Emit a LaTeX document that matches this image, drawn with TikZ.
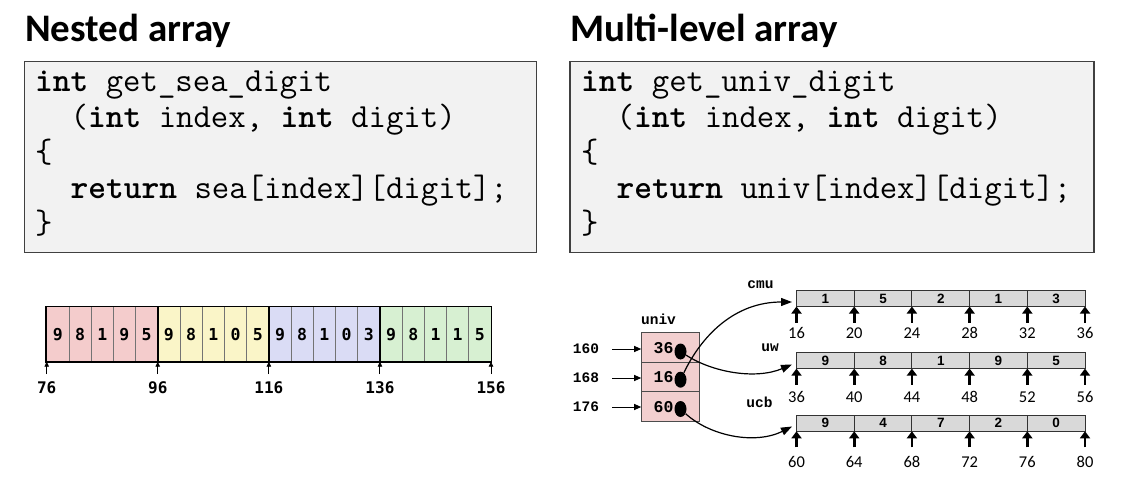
\documentclass[tikz,border=0pt]{standalone}
\usepackage{fontspec}
\setmainfont{Carlito}
\newfontfamily\codefont{Liberation Mono}
\newfontfamily\lucfont{DejaVu Sans Mono}
\newfontfamily\arialfont{Liberation Sans}
\usetikzlibrary{arrows.meta,calc,shapes.geometric}
\definecolor{boxgray}{HTML}{F2F2F2}
\definecolor{cellgray}{HTML}{D9D9D9}
\definecolor{redc}{HTML}{F4CCCC}
\definecolor{yelc}{HTML}{FAF5C8}
\definecolor{bluc}{HTML}{DADCF5}
\definecolor{grnc}{HTML}{D7F0D2}
\definecolor{pinkc}{HTML}{F2CFCF}
\tikzset{
  title/.style={font=\fontsize{39}{42}\selectfont\bfseries, inner sep=0pt, anchor=base west},
  codebox/.style={draw=black!75, fill=boxgray, line width=1.3pt, inner sep=0pt, anchor=north west},
  codeline/.style={font=\ttfamily\fontsize{33.8}{36}\selectfont, inner sep=0pt, anchor=base west},
  ncell/.style={draw=black!55, line width=0.8pt, minimum width=22.22pt, minimum height=55pt, inner sep=0pt, font=\lucfont\bfseries\fontsize{16.5}{17}\selectfont},
  ngroup/.style={draw=black, line width=1.6pt},
  nlab/.style={font=\lucfont\bfseries\fontsize{16}{17}\selectfont, inner sep=0pt},
  ntick/.style={line width=0.9pt, -{Triangle[length=5pt,width=4.5pt]}},
  ucell/.style={draw=black!70, fill=pinkc, line width=1pt, minimum width=57.6pt, minimum height=29.5pt, inner sep=0pt},
  utext/.style={font=\codefont\bfseries\fontsize{16.5}{17}\selectfont, inner sep=0pt},
  udot/.style={ellipse, fill=black, minimum width=12pt, minimum height=16pt, inner sep=0pt},
  mlab/.style={font=\codefont\bfseries\fontsize{14.5}{15}\selectfont, inner sep=0pt},
  addrarrow/.style={line width=1pt, -{Triangle[length=7pt,width=6pt]}},
  rcell/.style={draw=black!80, fill=cellgray, line width=1pt, minimum width=57.7pt, minimum height=16pt, inner sep=0pt, font=\arialfont\bfseries\fontsize{13.5}{13}\selectfont},
  rlab/.style={font=\fontsize{16.5}{17}\selectfont, inner sep=0pt},
  rtick/.style={line width=2.6pt, -{Triangle[length=7pt,width=10pt]}},
  curvearrow/.style={line width=1.2pt, -{Triangle[length=11pt,width=8pt]}}
}
\begin{document}
\begin{tikzpicture}[x=1pt,y=-1pt]
\useasboundingbox (0,0) rectangle (1121,490);
\fill[white] (0,0) rectangle (1121,490);

% titles
\node[title] (t1) at (25,41) {Nested array};
\node[title] (t2) at (570,41) {Multi-level array};

% code boxes
\node[codebox, minimum width=512pt, minimum height=191pt] (c1) at (24,60.7) {};
\node[codebox, minimum width=524pt, minimum height=191pt] (c2) at (569.3,60.7) {};

\node[codeline] (a1) at (35,91.7) {\textbf{int} get\_sea\_digit};
\node[codeline] (a2) at (70.5,127.2) {(\textbf{int} index, \textbf{int} digit)};
\node[codeline] (a3) at (35,162.7) {\{};
\node[codeline] (a4) at (70.5,198.2) {\textbf{return} sea[index][digit];};
\node[codeline] (a5) at (35,233.7) {\}};

\node[codeline] (b1) at (581,91.7) {\textbf{int} get\_univ\_digit};
\node[codeline] (b2) at (616.5,127.2) {(\textbf{int} index, \textbf{int} digit)};
\node[codeline] (b3) at (581,162.7) {\{};
\node[codeline] (b4) at (616.5,198.2) {\textbf{return} univ[index][digit];};
\node[codeline] (b5) at (581,233.7) {\}};

% nested array
\foreach \g/\col/\ds in {0/redc/{9,8,1,9,5},1/yelc/{9,8,1,0,5},2/bluc/{9,8,1,0,3},3/grnc/{9,8,1,1,5}}{
  \foreach \d [count=\i from 0] in \ds {
    \node[ncell, fill=\col] (n\g-\i) at ({46.7+111.08*\g+22.216*\i+11.108},334.2) {\d};
  }
}
\foreach \g in {0,...,3}{
  \draw[ngroup] (n\g-0.north west) rectangle (n\g-4.south east);
}
\foreach \l [count=\k from 0] in {76,96,116,136,156}{
  \coordinate (nb\k) at ({46.7+111.08*\k},361.7);
  \coordinate (nt\k) at ({46.7+111.08*\k},374);
  \node[nlab] (nl\k) at ({46.7+111.08*\k},388) {\l};
  \draw[ntick] (nt\k) -- (nb\k);
}

% univ
\node[mlab] (univlab) at (658.5,319) {univ};
\node[ucell] (u0) at (670.5,347.5) {};
\node[ucell] (u1) at (670.5,377) {};
\node[ucell] (u2) at (670.5,406.5) {};
\node[utext] (u0t) at (663.5,348) {36};
\node[utext] (u1t) at (663.5,377.5) {16};
\node[utext] (u2t) at (663.5,407) {60};

\node[mlab] (ad0) at (586,349) {160};
\node[mlab] (ad1) at (586,378) {168};
\node[mlab] (ad2) at (586,407) {176};
\draw[addrarrow, shorten <=13pt] (ad0.east) -- (ad0.east -| u0.west);
\draw[addrarrow, shorten <=13pt] (ad1.east) -- (ad1.east -| u1.west);
\draw[addrarrow, shorten <=13pt] (ad2.east) -- (ad2.east -| u2.west);

% right arrays
\node[mlab] (cmulab) at (760.5,285) {cmu};
\node[mlab] (uwlab) at (770,348) {uw};
\node[mlab] (ucblab) at (759.5,402) {ucb};

\foreach \nm/\yc/\ds/\ls/\yb/\yl in {cmu/298.5/{1,5,2,1,3}/{16,20,24,28,32,36}/306.5/333,uw/360.6/{9,8,1,9,5}/{36,40,44,48,52,56}/368.6/397,ucb/423.2/{9,4,7,2,0}/{60,64,68,72,76,80}/431.3/462}{
  \foreach \d [count=\i from 0] in \ds {
    \node[rcell] (\nm-c\i) at ({796.5+57.7*\i+28.85},\yc) {\d};
  }
  \foreach \l [count=\k from 0] in \ls {
    \coordinate (\nm-b\k) at ({796.5+57.7*\k},\yb);
    \coordinate (\nm-t\k) at ({796.5+57.7*\k},\yb+16);
    \node[rlab] (\nm-l\k) at ({796.5+57.7*\k},\yl) {\l};
    \draw[rtick] (\nm-t\k) -- (\nm-b\k);
  }
}

\coordinate (cmuin) at (792,302);
\coordinate (uwin) at (792,364.5);
\coordinate (ucbin) at (792,426.5);

\node[udot] (d0) at (680.5,351.5) {};
\node[udot] (d1) at (680.5,379.7) {};
\node[udot] (d2) at (680.5,409) {};

\draw[curvearrow] (d1) .. controls (702,335) and (735,302) .. (cmuin);
\draw[curvearrow] (d0) .. controls (712,372) and (755,380) .. (uwin);
\draw[curvearrow] (d2) .. controls (710,436) and (755,445) .. (ucbin);
\end{tikzpicture}
\end{document}
